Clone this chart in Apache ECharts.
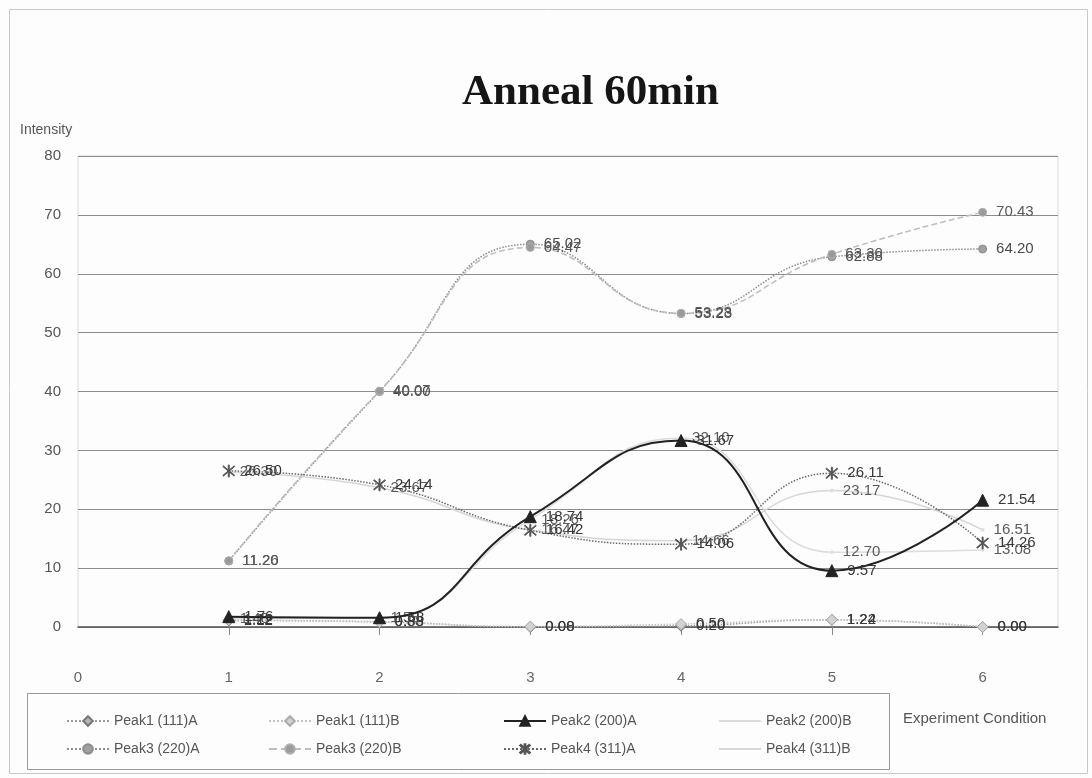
<!DOCTYPE html>
<html>
<head>
<meta charset="utf-8">
<title>Anneal 60min</title>
<script src="https://cdn.jsdelivr.net/npm/echarts@6/dist/echarts.min.js"></script>
<style>
  html, body { margin: 0; padding: 0; background: #fbfbfb; }
  #chart { width: 1092px; height: 778px; }
</style>
</head>
<body>
<div id="chart"></div>
<script>
// Experiment conditions on the x axis
const conditions = [1, 2, 3, 4, 5, 6];
const xTickLabels = [0, 1, 2, 3, 4, 5, 6];
const yTicks = [0, 10, 20, 30, 40, 50, 60, 70, 80];

// Peak intensities per condition
const peak1A = [1.12, 0.88, 0.00, 0.20, 1.22, 0.00];
const peak1B = [1.22, 0.83, 0.08, 0.50, 1.24, 0.00];
const peak2A = [1.76, 1.58, 18.74, 31.67, 9.57, 21.54];
const peak2B = [1.46, 1.53, 18.26, 32.10, 12.70, 13.08];
const peak3A = [11.20, 40.00, 65.02, 53.23, 62.88, 64.20];
const peak3B = [11.26, 40.07, 64.47, 53.28, 63.30, 70.43];
const peak4A = [26.50, 24.14, 16.42, 14.06, 26.11, 14.26];
const peak4B = [26.30, 23.67, 16.47, 14.66, 23.17, 16.51];

// Asterisk marker: a vertical bar crossed by two diagonals
const asterisk = 'path://M-0.07 -1 L0.07 -1 L0.07 1 L-0.07 1 Z ' +
  'M-0.85 -0.75 L-0.75 -0.85 L0.85 0.75 L0.75 0.85 Z ' +
  'M0.75 -0.85 L0.85 -0.75 L-0.75 0.85 L-0.85 0.75 Z';

function pairs(values) {
  return conditions.map((c, i) => [c, values[i]]);
}

function makeSeries(name, values, opt) {
  return {
    name: name,
    type: 'line',
    data: pairs(values),
    smooth: 0.5,
    symbol: opt.symbol,
    symbolSize: opt.symbolSize,
    showSymbol: true,
    lineStyle: { color: opt.line, width: opt.width || 1.5, type: opt.dash || 'solid' },
    itemStyle: { color: opt.fill, borderColor: opt.border || opt.fill, borderWidth: 1 },
    label: {
      show: true,
      position: 'right',
      distance: 9,
      fontFamily: 'Liberation Sans, Arial, sans-serif',
      fontSize: 15,
      color: opt.labelColor || '#383838',
      formatter: p => p.value[1].toFixed(2)
    },
    emphasis: { disabled: true },
    z: opt.z || 2
  };
}

const series = [
  makeSeries('Peak1 (111)A', peak1A, { symbol: 'diamond', symbolSize: 11, line: '#9a9a9a', dash: 'dotted', fill: '#b5b5b5', border: '#777' }),
  makeSeries('Peak1 (111)B', peak1B, { symbol: 'diamond', symbolSize: 11, line: '#c4c4c4', dash: 'dotted', fill: '#d2d2d2', border: '#aaa' }),
  makeSeries('Peak2 (200)A', peak2A, { symbol: 'triangle', symbolSize: 12, line: '#222', width: 2, fill: '#222', z: 4 }),
  makeSeries('Peak2 (200)B', peak2B, { symbol: 'circle', symbolSize: 3, line: '#dcdcdc', fill: '#e2e2e2', labelColor: '#5a5a5a' }),
  makeSeries('Peak3 (220)A', peak3A, { symbol: 'circle', symbolSize: 8, line: '#8c8c8c', dash: 'dotted', fill: '#a0a0a0', border: '#8a8a8a', labelColor: '#4a4a4a' }),
  makeSeries('Peak3 (220)B', peak3B, { symbol: 'circle', symbolSize: 8, line: '#bdbdbd', dash: 'dashed', fill: '#9a9a9a', border: '#b0b0b0', labelColor: '#5a5a5a' }),
  makeSeries('Peak4 (311)A', peak4A, { symbol: asterisk, symbolSize: 12, line: '#6a6a6a', dash: 'dotted', fill: '#555', z: 3 }),
  makeSeries('Peak4 (311)B', peak4B, { symbol: 'circle', symbolSize: 3, line: '#d6d6d6', fill: '#dedede', labelColor: '#5a5a5a' })
];

const legendText = { fontFamily: 'Liberation Sans, Arial, sans-serif', fontSize: 14, color: '#555' };
const faintItem = { color: 'rgba(0,0,0,0)', borderColor: 'rgba(0,0,0,0)' };
function legendColumn(left, names) {
  return {
    orient: 'vertical',
    left: left,
    top: 709,
    itemWidth: 42,
    itemHeight: 12,
    itemGap: 14,
    selectedMode: false,
    textStyle: legendText,
    data: names
  };
}

const chart = echarts.init(document.getElementById('chart'), null, { renderer: 'canvas' });
chart.setOption({
  backgroundColor: '#fdfdfd',
  animation: false,
  title: {
    text: 'Anneal 60min',
    left: 457,
    top: 66,
    textStyle: { fontFamily: 'Liberation Serif, Times New Roman, serif', fontWeight: 'bold', fontSize: 43, color: '#151515' }
  },
  legend: [
    legendColumn(61, ['Peak1 (111)A', 'Peak3 (220)A']),
    legendColumn(263, ['Peak1 (111)B', 'Peak3 (220)B']),
    legendColumn(498, ['Peak2 (200)A', 'Peak4 (311)A']),
    legendColumn(713, [
      { name: 'Peak2 (200)B', itemStyle: faintItem },
      { name: 'Peak4 (311)B', itemStyle: faintItem }
    ])
  ],
  grid: {
    left: 78, right: 34, top: 156, bottom: 151,
    show: true, borderColor: '#d8d8d8', borderWidth: 1
  },
  xAxis: {
    type: 'value',
    min: 0,
    max: 6.5,
    interval: 1,
    axisLine: { show: true, onZero: true, lineStyle: { color: '#555', width: 1.5 } },
    axisTick: { show: true, length: 8, customValues: conditions, lineStyle: { color: '#888' } },
    axisLabel: {
      customValues: xTickLabels,
      margin: 43,
      fontFamily: 'Liberation Sans, Arial, sans-serif',
      fontSize: 15,
      color: '#666'
    },
    splitLine: { show: false }
  },
  yAxis: {
    type: 'value',
    min: 0,
    max: 80,
    interval: 10,
    axisLine: { show: false },
    axisTick: { show: false },
    axisLabel: {
      customValues: yTicks,
      margin: 17,
      fontFamily: 'Liberation Sans, Arial, sans-serif',
      fontSize: 15,
      color: '#555'
    },
    splitLine: { show: true, lineStyle: { color: '#8c8c8c', width: 1 } }
  },
  graphic: [
    { type: 'rect', left: 7, top: 7, shape: { width: 1078, height: 764 }, style: { fill: 'none', stroke: '#c8c8c8', lineWidth: 1 }, silent: true },
    { type: 'rect', left: 25, top: 691, shape: { width: 862, height: 76 }, style: { fill: 'none', stroke: '#999', lineWidth: 1 }, silent: true },
    { type: 'text', left: 20, top: 123, style: { text: 'Intensity', font: '14px Liberation Sans, Arial, sans-serif', fill: '#555' } },
    { type: 'text', left: 903, top: 711, style: { text: 'Experiment Condition', font: '15px Liberation Sans, Arial, sans-serif', fill: '#555' } }
  ],
  series: series
});
</script>
</body>
</html>
